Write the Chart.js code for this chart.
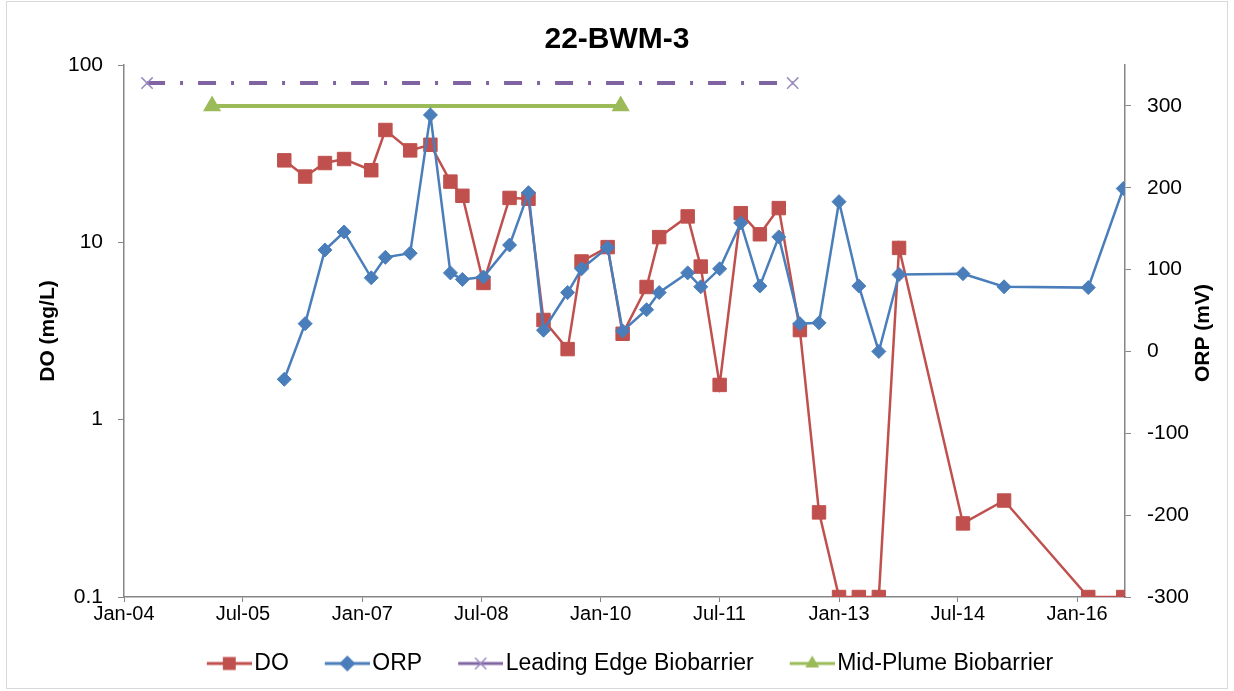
<!DOCTYPE html>
<html>
<head>
<meta charset="utf-8">
<title>22-BWM-3</title>
<script src="https://cdn.jsdelivr.net/npm/chart.js@4/dist/chart.umd.min.js"></script>
<style>
  html, body { margin: 0; padding: 0; background: #fff; }
  #wrap { width: 1234px; height: 691px; }
</style>
</head>
<body>
<div id="wrap"><canvas id="chart" width="1234" height="691"></canvas></div>
<script>
// sampling dates shared by DO and ORP
const sampleDates = [
    "2006-01-07", "2006-04-13", "2006-07-13", "2006-10-09", "2007-02-11", "2007-04-17",
    "2007-08-09", "2007-11-10", "2008-02-10", "2008-04-05", "2008-07-11", "2008-11-08",
    "2009-02-03", "2009-04-13", "2009-08-02", "2009-10-05", "2010-02-02", "2010-04-12",
    "2010-07-31", "2010-09-27", "2011-02-05", "2011-04-06", "2011-07-02", "2011-10-07",
    "2012-01-03", "2012-03-30", "2012-07-05", "2012-10-01", "2013-01-01", "2013-04-02",
    "2013-07-03", "2013-10-04", "2014-07-25", "2015-01-30", "2016-02-21", "2016-07-31"
];
const doValues = [
    29, 23.5, 28, 29.5, 25.5, 43, 33, 35.5, 22, 18.3, 5.9, 17.8,
    17.6, 3.65, 2.5, 7.8, 9.4, 3.05, 5.6, 10.7, 14, 7.3, 1.57, 14.6,
    11.1, 15.6, 3.2, 0.3, 0.1, 0.1, 0.1, 9.3, 0.26, 0.35, 0.1, 0.1
];
const orpValues = [
    -34, 34, 124, 146, 90, 115, 120, 289, 96, 88, 91, 130,
    194, 26, 72, 101, 127, 25, 51, 72, 96, 79, 101, 157,
    80, 140, 34, 35, 183, 80, 0, 94, 95, 79, 78, 199
];
// biobarrier periods (plotted on the ORP axis)
const leadingEdgeDates = ["2004-04-16", "2012-06-02"];
const leadingEdgeValues = [328, 328];
const midPlumeDates = ["2005-02-09", "2010-04-03"];
const midPlumeValues = [300, 300];

const xTickDates = ["2004-01-01", "2005-07-01", "2007-01-01", "2008-07-01", "2010-01-01",
    "2011-07-01", "2013-01-01", "2014-07-01", "2016-01-01"];
const doTicks = [0.1, 1, 10, 100];
const orpTicks = [-300, -200, -100, 0, 100, 200, 300];
const monthNames = ["Jan", "Feb", "Mar", "Apr", "May", "Jun", "Jul", "Aug", "Sep", "Oct", "Nov", "Dec"];

const origin = Date.parse("2004-01-01");
const day = s => (Date.parse(s) - origin) / 86400000;
const fmtDate = v => {
    const d = new Date(origin + v * 86400000);
    return monthNames[d.getUTCMonth()] + "-" + String(d.getUTCFullYear()).slice(2);
};
const pts = (dates, vals) => dates.map((d, i) => ({ x: day(d), y: vals[i] }));

Chart.defaults.font.family = '"Liberation Sans", Arial, sans-serif';
Chart.defaults.color = "#000";

const axisGray = "#868686";

// legend icons: line with the marker in the middle, like Excel.
// canvas is 80 wide, drawn centred on a 62px box, so the line ends right next to the text
function makeIcon(color, style, radius, markColor) {
    const c = document.createElement("canvas");
    c.width = 80; c.height = 26;
    const ctx = c.getContext("2d");
    ctx.strokeStyle = color;
    ctx.lineWidth = 3;
    ctx.beginPath();
    ctx.moveTo(35, 13);
    ctx.lineTo(80, 13);
    ctx.stroke();
    ctx.fillStyle = markColor || color;
    ctx.strokeStyle = markColor || color;
    ctx.lineWidth = 1.5;
    Chart.helpers.drawPoint(ctx, { pointStyle: style, radius: radius, rotation: 0, borderWidth: 1.5 }, 57.5, 13);
    return c;
}

const legendIcons = [
    makeIcon("#C0504D", "rect", 8),
    makeIcon("#4A7EBB", "rectRot", 7),
    makeIcon("#8064A2", "crossRot", 8, "#9B8AC0"),
    makeIcon("#9BBB59", "triangle", 6.5)
];

const decor = {
    id: "decor",
    beforeDraw(chart) {
        const ctx = chart.ctx;
        ctx.save();
        ctx.fillStyle = "#fff";
        ctx.fillRect(0, 0, chart.width, chart.height);
        ctx.strokeStyle = "#d9d9d9";
        ctx.lineWidth = 1;
        ctx.strokeRect(6.5, 1.5, chart.width - 13, chart.height - 4);
        ctx.restore();
    },
    afterDraw(chart) {
        const ctx = chart.ctx;
        const a = chart.chartArea;
        ctx.save();
        ctx.translate(1203, (a.top + a.bottom) / 2 + 2);
        ctx.rotate(-Math.PI / 2);
        ctx.font = 'bold 21px "Liberation Sans", Arial, sans-serif';
        ctx.fillStyle = "#000";
        ctx.textAlign = "center";
        ctx.textBaseline = "middle";
        ctx.fillText("ORP (mV)", 0, 0);
        ctx.restore();
    }
};

new Chart(document.getElementById("chart"), {
    type: "line",
    data: {
        datasets: [
            {
                label: "DO",
                data: pts(sampleDates, doValues),
                yAxisID: "y",
                borderColor: "#C0504D",
                backgroundColor: "#C0504D",
                borderWidth: 2.5,
                pointStyle: "rect",
                pointRadius: 9.5,
                pointBorderWidth: 1,
                order: 2
            },
            {
                label: "ORP",
                data: pts(sampleDates, orpValues),
                yAxisID: "y1",
                borderColor: "#4A7EBB",
                backgroundColor: "#4A7EBB",
                borderWidth: 2.5,
                pointStyle: "rectRot",
                pointRadius: 7,
                pointBorderWidth: 1,
                order: 1
            },
            {
                label: "Leading Edge Biobarrier",
                data: pts(leadingEdgeDates, leadingEdgeValues),
                yAxisID: "y1",
                borderColor: "#8064A2",
                borderWidth: 4,
                borderDash: [18, 15, 3, 15],
                pointStyle: "crossRot",
                pointRadius: 8,
                pointBorderColor: "#9B8AC0",
                pointBorderWidth: 1.5,
                order: 3
            },
            {
                label: "Mid-Plume Biobarrier",
                data: pts(midPlumeDates, midPlumeValues),
                yAxisID: "y1",
                borderColor: "#9BBB59",
                backgroundColor: "#9BBB59",
                borderWidth: 4,
                pointStyle: "triangle",
                pointRadius: 6.5,
                order: 4
            }
        ]
    },
    options: {
        responsive: false,
        animation: false,
        elements: { line: { tension: 0 } },
        layout: { padding: { left: 0, right: 0, top: 0, bottom: 6 } },
        plugins: {
            title: {
                display: true,
                text: "22-BWM-3",
                font: { size: 30, weight: "bold" },
                color: "#000",
                padding: { top: 22, bottom: 7 }
            },
            legend: {
                position: "bottom",
                labels: {
                    usePointStyle: true,
                    pointStyleWidth: 62,
                    padding: 10,
                    font: { size: 23 },
                    color: "#000",
                    generateLabels: chart => chart.data.datasets.map((ds, i) => ({
                        text: ds.label,
                        pointStyle: legendIcons[i],
                        datasetIndex: i,
                        fontColor: "#000",
                        hidden: false,
                        lineWidth: 0,
                        strokeStyle: "transparent",
                        fillStyle: "transparent"
                    }))
                }
            },
            tooltip: { enabled: false }
        },
        scales: {
            x: {
                type: "linear",
                min: day("2004-01-01"),
                max: day("2016-08-08"),
                afterBuildTicks: s => { s.ticks = xTickDates.map(d => ({ value: day(d) })); },
                afterFit: s => { s.height = 45; },
                ticks: { callback: v => fmtDate(v), font: { size: 20 }, maxRotation: 0, autoSkip: false, padding: 0 },
                grid: { drawOnChartArea: false, tickLength: 5, color: axisGray },
                border: { color: axisGray, width: 1.5 }
            },
            y: {
                type: "logarithmic",
                position: "left",
                min: 0.1,
                max: 100,
                afterBuildTicks: s => { s.ticks = doTicks.map(v => ({ value: v })); },
                afterFit: s => { s.width = 124; },
                ticks: { callback: v => String(v), font: { size: 21 }, padding: 15 },
                grid: { drawOnChartArea: false, tickLength: 6, color: axisGray },
                border: { color: axisGray, width: 1.5 },
                title: { display: true, text: "DO (mg/L)", font: { size: 21, weight: "bold" }, padding: { top: 36 } }
            },
            y1: {
                type: "linear",
                position: "right",
                min: -300,
                max: 350,
                afterBuildTicks: s => { s.ticks = orpTicks.map(v => ({ value: v })); },
                afterFit: s => { s.width = 109; },
                ticks: { font: { size: 21 }, padding: 16 },
                grid: { drawOnChartArea: false, tickLength: 6, color: axisGray },
                border: { color: axisGray, width: 1.5 }
            }
        }
    },
    plugins: [decor]
});
</script>
</body>
</html>
